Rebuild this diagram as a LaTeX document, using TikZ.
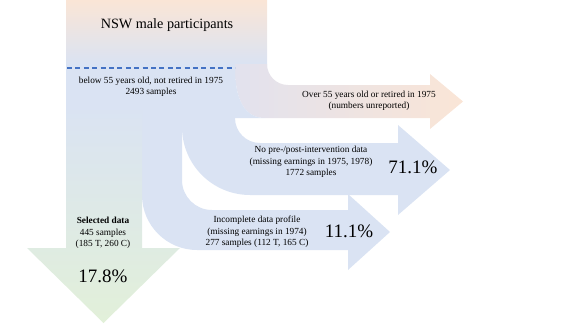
\documentclass[tikz,border=0pt]{standalone}
\usepackage{fontspec}
\setmainfont{Liberation Serif}
\definecolor{nswpeach}{RGB}{250,229,214}
\definecolor{nswblue}{RGB}{218,227,243}
\definecolor{nswlav}{RGB}{226,226,238}
\definecolor{nswgreen}{RGB}{226,240,217}
\definecolor{nswdash}{RGB}{68,114,196}
\usetikzlibrary{positioning}

\begin{document}
\begin{tikzpicture}[x=1pt, y=-1pt,
  lbl/.style={font=\fontsize{9.3}{11.3}\selectfont, align=center, inner sep=0pt},
  pct/.style={font=\fontsize{19}{22}\selectfont, inner sep=0pt}]
  \useasboundingbox (0,0) rectangle (575,324);

  \shade[top color=nswpeach, bottom color=nswblue] (66,0) rectangle (267,65);
  \shade[left color=nswlav, right color=nswpeach] (235,64) -- (267,64) arc[start angle=180, end angle=90, radius=21] -- (430,85) -- (430,74) -- (463,101.5) -- (430,129) -- (430,118) -- (265,118) .. controls (245,118) and (235,100) .. (235,68) -- cycle;
  \fill[nswblue] (66,65) -- (235,65) -- (235,68) .. controls (235,100) and (245,118) .. (265,118) -- (235,118) -- (235,110) -- (66,110) -- cycle;

  \fill[nswblue] (182,105) -- (235,105) -- (235,118) arc[start angle=180, end angle=90, radius=25] -- (398,143) -- (398,125) -- (450,170) -- (398,215) -- (398,195) -- (250,195) arc[start angle=90, end angle=180, radius=68] -- cycle;
  \fill[nswblue] (142,105) -- (182,105) -- (182,180) arc[start angle=180, end angle=90, radius=30] -- (348,210) -- (348,194) -- (390,232) -- (348,270) -- (348,250) -- (197,250) arc[start angle=90, end angle=180, radius=55] -- cycle;
  \shade[top color=nswblue, bottom color=nswgreen] (66,105) -- (142,105) -- (142,248) -- (180,248) -- (103.5,323) -- (27,248) -- (66,248) -- cycle;

  \coordinate (dl) at (67,68);
  \coordinate (dr) at (235,68);
  \draw[nswdash, line width=1.3pt, dash pattern=on 5pt off 3.4pt] (dl) -- (dr);

  \node[font=\fontsize{14.2}{16}\selectfont, inner sep=0pt] (title) at (167,25) {NSW male participants};
  \node[lbl] (below) at (151,87) {below 55 years old, not retired in 1975\\2493 samples};
  \node[lbl] (over) at (369,101) {Over 55 years old or retired in 1975\\(numbers unreported)};
  \node[lbl] (nopost) at (311,162) {No pre-/post-intervention data\\(missing earnings in 1975, 1978)\\1772 samples};
  \node[lbl] (incomp) at (257,232) {Incomplete data profile\\(missing earnings in 1974)\\277 samples (112 T, 165 C)};
  \node[lbl] (sel) at (103,233) {\textbf{Selected data}\\445 samples\\(185 T, 260 C)};

  \node[pct] (p71) at (413,167) {71.1\%};
  \node[pct] (p11) at (349,231) {11.1\%};
  \node[pct] (p18) at (103,276) {17.8\%};
\end{tikzpicture}
\end{document}
